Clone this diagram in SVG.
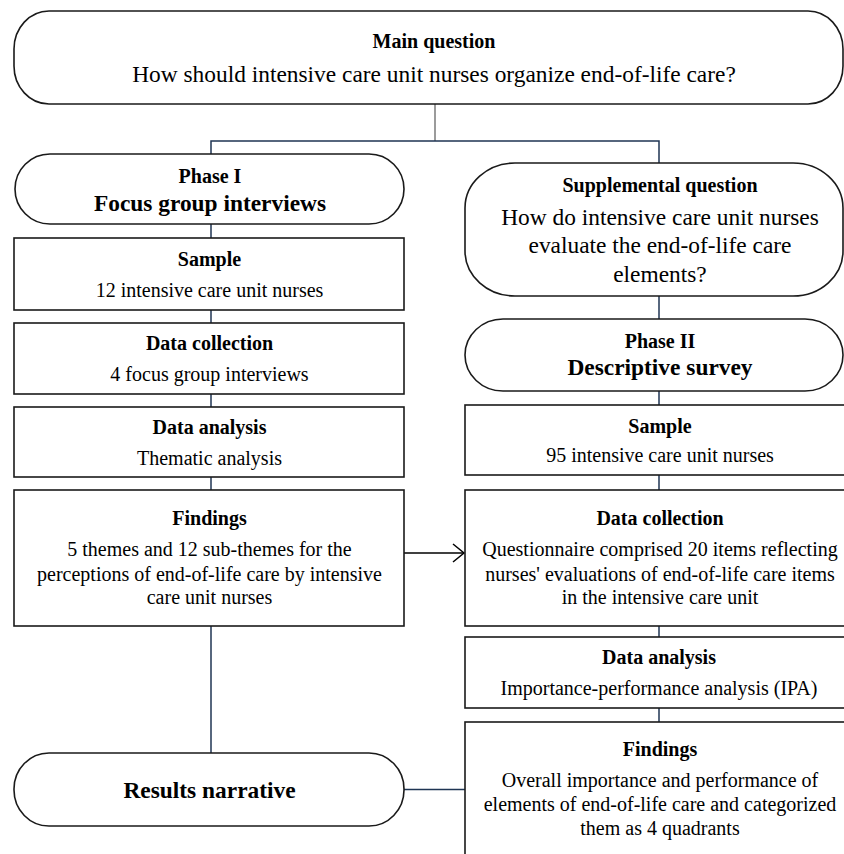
<svg xmlns="http://www.w3.org/2000/svg" width="844" height="854" viewBox="0 0 844 854">
<style>
.box{fill:#fff;stroke:#1a1a1a;stroke-width:1.6}
.conn{fill:none;stroke:#1f3553;stroke-width:1.5}
.gray{fill:none;stroke:#7a7a7a;stroke-width:1.5}
text{font-family:"Liberation Serif","Times New Roman",serif;fill:#000;text-anchor:middle}
.b{font-weight:bold;font-size:20px}
.r{font-size:20px}
.big{font-size:23.4px}
.bigb{font-weight:bold;font-size:23.4px}
</style>
<defs>
<marker id="chev" markerWidth="14" markerHeight="22" refX="12" refY="10" orient="auto" markerUnits="userSpaceOnUse">
<path d="M1,1 L12,10 L1,19" fill="none" stroke="#000" stroke-width="1.5"/>
</marker>
</defs>
<rect width="844" height="854" fill="#fff"/>
<g id="connectors">
<line class="gray" x1="435" y1="104" x2="435" y2="141"/>
<polyline class="conn" points="211,154 211,141 659,141 659,163"/>
<line class="conn" x1="211" y1="224" x2="211" y2="238"/>
<line class="conn" x1="211" y1="310" x2="211" y2="323"/>
<line class="conn" x1="211" y1="394" x2="211" y2="407"/>
<line class="conn" x1="211" y1="477" x2="211" y2="490"/>
<line class="conn" x1="211" y1="626" x2="211" y2="753"/>
<line class="conn" x1="659" y1="296" x2="659" y2="319"/>
<line class="conn" x1="659" y1="391" x2="659" y2="405"/>
<line class="conn" x1="659" y1="475" x2="659" y2="490"/>
<line class="conn" x1="659" y1="626" x2="659" y2="637"/>
<line class="conn" x1="659" y1="708" x2="659" y2="722"/>
<line x1="404" y1="553" x2="464" y2="553" stroke="#000" stroke-width="1.5" marker-end="url(#chev)"/>
<line class="conn" x1="404" y1="789.5" x2="465" y2="789.5"/>
</g>
<g id="main-question">
<rect class="box" x="14" y="11" width="829" height="93" rx="35" ry="38"/>
<text class="b" x="434" y="47.5">Main question</text>
<text class="big" x="434" y="82">How should intensive care unit nurses organize end-of-life care?</text>
</g>
<g id="phase1">
<rect class="box" x="15" y="154" width="389" height="70" rx="35" ry="35"/>
<text class="b" x="210" y="183">Phase I</text>
<text class="bigb" x="210" y="211">Focus group interviews</text>
</g>
<g id="supplemental-question">
<rect class="box" x="465" y="163" width="378" height="133" rx="50" ry="45"/>
<text class="b" x="660" y="192">Supplemental question</text>
<text class="big" x="660" y="225">How do intensive care unit nurses</text>
<text class="big" x="660" y="253">evaluate the end-of-life care</text>
<text class="big" x="660" y="281.5">elements?</text>
</g>
<g id="sample1">
<rect class="box" x="14" y="238" width="390" height="72"/>
<text class="b" x="209.5" y="265.5">Sample</text>
<text class="r" x="209.5" y="297">12 intensive care unit nurses</text>
</g>
<g id="datacollection1">
<rect class="box" x="14" y="323" width="390" height="71"/>
<text class="b" x="209.5" y="350">Data collection</text>
<text class="r" x="209.5" y="381">4 focus group interviews</text>
</g>
<g id="dataanalysis1">
<rect class="box" x="14" y="407" width="390" height="70"/>
<text class="b" x="209.5" y="433.5">Data analysis</text>
<text class="r" x="209.5" y="465">Thematic analysis</text>
</g>
<g id="findings1">
<rect class="box" x="14" y="490" width="390" height="136"/>
<text class="b" x="209.5" y="525">Findings</text>
<text class="r" x="209.5" y="556">5 themes and 12 sub-themes for the</text>
<text class="r" x="209.5" y="580.5">perceptions of end-of-life care by intensive</text>
<text class="r" x="209.5" y="604">care unit nurses</text>
</g>
<g id="results-narrative">
<rect class="box" x="14" y="753" width="390" height="73" rx="35" ry="36"/>
<text class="bigb" x="209.5" y="798">Results narrative</text>
</g>
<g id="phase2">
<rect class="box" x="465" y="319" width="378" height="72" rx="38" ry="36"/>
<text class="b" x="660" y="348">Phase II</text>
<text class="bigb" x="660" y="375">Descriptive survey</text>
</g>
<g id="sample2">
<rect class="box" x="465" y="405" width="384" height="70"/>
<text class="b" x="660" y="432.5">Sample</text>
<text class="r" x="660" y="462">95 intensive care unit nurses</text>
</g>
<g id="datacollection2">
<rect class="box" x="465" y="490" width="384" height="136"/>
<text class="b" x="660" y="525">Data collection</text>
<text class="r" x="660" y="556">Questionnaire comprised 20 items reflecting</text>
<text class="r" x="660" y="580.5">nurses' evaluations of end-of-life care items</text>
<text class="r" x="660" y="604">in the intensive care unit</text>
</g>
<g id="dataanalysis2">
<rect class="box" x="465" y="637" width="384" height="71"/>
<text class="b" x="659" y="664">Data analysis</text>
<text class="r" x="659" y="695">Importance-performance analysis (IPA)</text>
</g>
<g id="findings2">
<rect class="box" x="465" y="722" width="384" height="140"/>
<text class="b" x="660" y="756">Findings</text>
<text class="r" x="660" y="787">Overall importance and performance of</text>
<text class="r" x="660" y="811">elements of end-of-life care and categorized</text>
<text class="r" x="660" y="835">them as 4 quadrants</text>
</g>
</svg>
